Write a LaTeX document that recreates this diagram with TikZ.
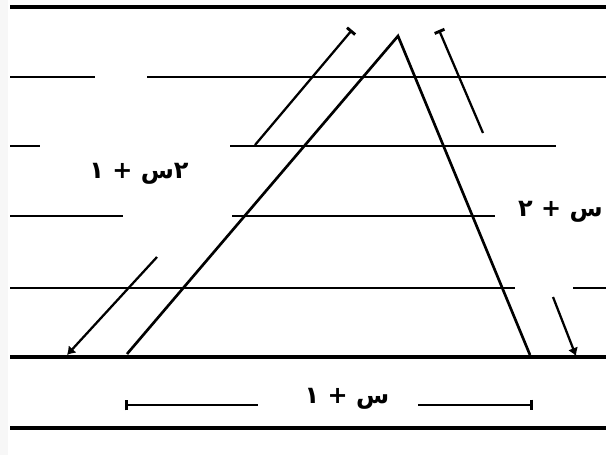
\documentclass[tikz,border=0pt]{standalone}
\usepackage{fontspec}
\newfontfamily\arabicfont[Script=Arabic]{DejaVu Sans}
\TeXXeTstate=1
\usepackage{tikz}
\usetikzlibrary{arrows.meta}

\begin{document}
\begin{tikzpicture}[
  x=0.75pt, y=-0.75pt,
  rule/.style={line width=2.2pt},
  thickrule/.style={line width=2.7pt},
  side/.style={line width=2pt},
  dim/.style={line width=1.7pt},
  lbl/.style={font=\arabicfont\bfseries\fontsize{18}{20}\selectfont, inner sep=0pt}
]
  \useasboundingbox (0,0) rectangle (606,455);
  \fill[gray!6] (0,0) rectangle (8,455);

  % ruled lines
  \draw[thickrule] (10,7) -- (606,7);
  \draw[rule] (10,77) -- (95,77) (147,77) -- (606,77);
  \draw[rule] (10,146) -- (40,146) (230,146) -- (556,146);
  \draw[rule] (10,216) -- (123,216) (232,216) -- (495,216);
  \draw[rule] (10,288) -- (515,288) (573,288) -- (606,288);
  \draw[thickrule] (10,357) -- (606,357);
  \draw[thickrule] (10,428) -- (606,428);

  % triangle
  \coordinate (apex) at (398,36);
  \coordinate (bl) at (127,354);
  \coordinate (br) at (530,355);
  \draw[side] (bl) -- (apex) -- (br);

  % left side 2x+1
  \coordinate (ltop) at (352,30);
  \coordinate (lend) at (255,145);
  \coordinate (lstart) at (157,257);
  \coordinate (lbot) at (67,355);
  \draw[dim, {Bar[width=8pt, line width=2.2pt]}-] (ltop) -- (lend);
  \draw[dim, -{Latex[length=6pt, width=8pt]}] (lstart) -- (lbot);
  \node[lbl] (llabel) at (139,174) {\beginR ٢س + ١\endR};

  % right side x+2
  \coordinate (rtop) at (439,30);
  \coordinate (rend) at (483,133);
  \coordinate (rstart) at (553,297);
  \coordinate (rbot) at (576,356);
  \draw[dim, {Bar[width=8pt, line width=2.2pt]}-] (rtop) -- (rend);
  \draw[dim, -{Latex[length=6pt, width=8pt]}] (rstart) -- (rbot);
  \node[lbl, anchor=east] (rlabel) at (603,212) {\beginR س + ٢\endR};

  % base x+1
  \coordinate (bleft) at (125,405);
  \coordinate (bleftend) at (258,405);
  \coordinate (brightend) at (418,405);
  \coordinate (bright) at (533,405);
  \draw[dim, {Bar[width=8pt, line width=2pt]}-] (bleft) -- (bleftend);
  \draw[dim, -{Bar[width=8pt, line width=2pt]}] (brightend) -- (bright);
  \node[lbl] (blabel) at (347,399) {\beginR س + ١\endR};
\end{tikzpicture}
\end{document}
